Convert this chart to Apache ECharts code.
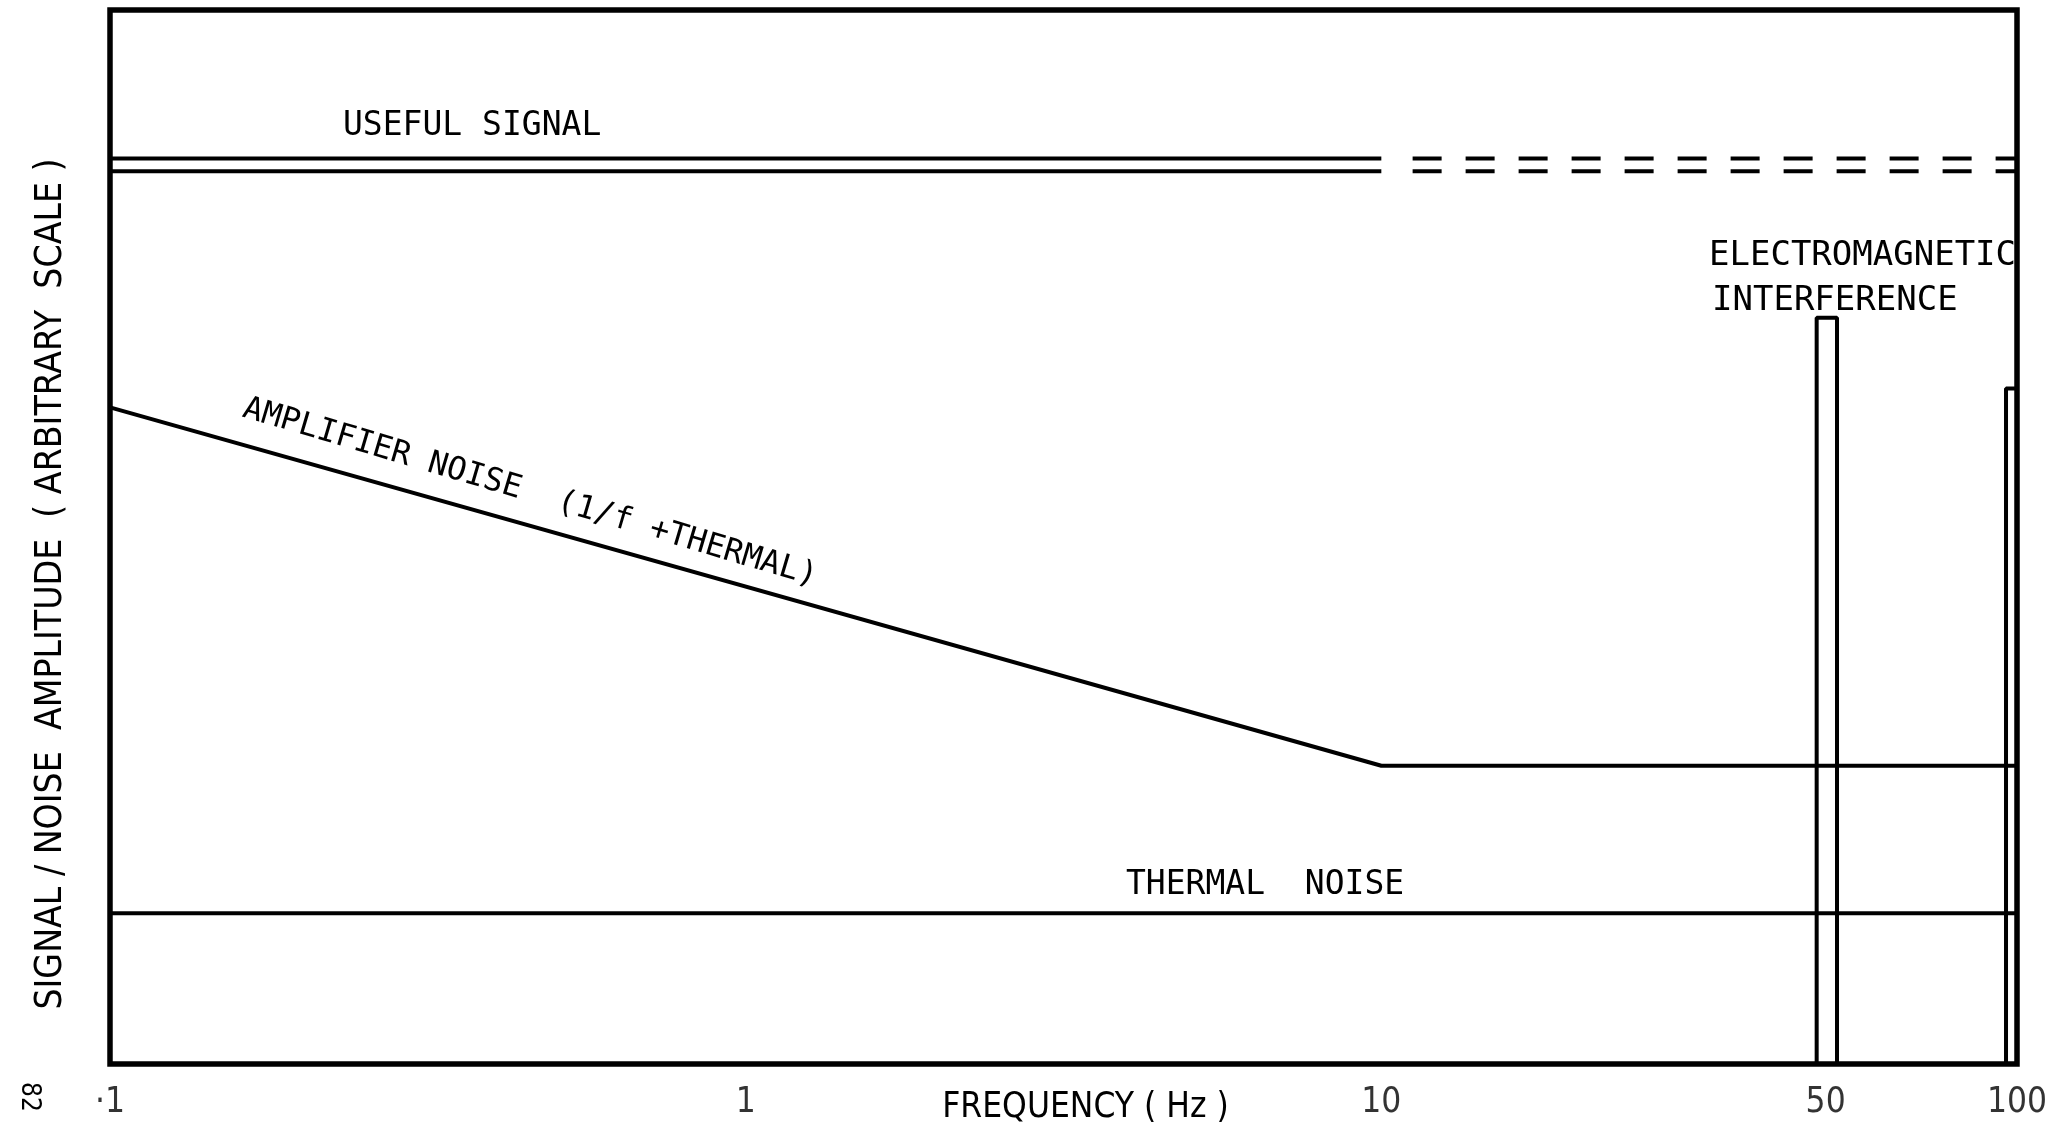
<!DOCTYPE html>
<html>
<head>
<meta charset="utf-8">
<script src="https://cdn.jsdelivr.net/npm/echarts@6/dist/echarts.min.js"></script>
<style>
html,body{margin:0;padding:0;background:#fff;}
#chart{width:2069px;height:1130px;}
</style>
</head>
<body>
<div id="chart"></div>
<script>
// ---- data (x: frequency in Hz on log scale, y: arbitrary amplitude 0..100) ----
const tickValues = [0.1, 1, 10, 50, 100];
const tickLabels = ['·1', '1', '10', '50', '100'];

const usefulUpperSolid = [[0.1, 85.9], [10, 85.9]];
const usefulUpperDashed = [[11.2, 85.9], [100, 85.9]];
const usefulLowerSolid = [[0.1, 84.7], [10, 84.7]];
const usefulLowerDashed = [[11.2, 84.7], [100, 84.7]];
const amplifierNoise = [[0.1, 62.3], [10, 28.3], [100, 28.3]];
const thermalNoise = [[0.1, 14.3], [100, 14.3]];
const emi50 = [[48.4, 0], [48.4, 70.8], [52.1, 70.8], [52.1, 0]];
const emi100 = [[96.1, 0], [96.1, 64.1], [100, 64.1]];

const COND = '"DejaVu Sans Condensed", "Liberation Sans Narrow", sans-serif';
const MONO = '"DejaVu Sans Mono", "Liberation Mono", monospace';

function lineSeries(data, w, type) {
  return {
    type: 'line', data: data, symbol: 'none', silent: true, animation: false,
    lineStyle: { color: '#000', width: w, type: type || 'solid' }
  };
}

const chart = echarts.init(document.getElementById('chart'));
const option = {
  backgroundColor: '#fff',
  animation: false,
  grid: { left: 110, right: 52, top: 10, bottom: 57, show: true, borderColor: '#000', borderWidth: 5.5, backgroundColor: 'transparent' },
  xAxis: {
    type: 'log', logBase: 10, min: 0.1, max: 100,
    axisLine: { show: false }, axisTick: { show: false }, axisLabel: { show: false }, splitLine: { show: false },
    name: 'FREQUENCY ( Hz )', nameLocation: 'middle', nameGap: 26,
    nameTextStyle: { fontFamily: COND, fontSize: 35, color: '#000', padding: [0, 0, 0, 44] }
  },
  yAxis: {
    type: 'value', min: 0, max: 100,
    axisLine: { show: false }, axisTick: { show: false }, axisLabel: { show: false }, splitLine: { show: false }
  },
  series: [
    lineSeries(usefulUpperSolid, 4),
    lineSeries(usefulUpperDashed, 4, [29, 24]),
    lineSeries(usefulLowerSolid, 4),
    lineSeries(usefulLowerDashed, 4, [29, 24]),
    lineSeries(amplifierNoise, 4),
    lineSeries(thermalNoise, 4),
    lineSeries(emi50, 4),
    lineSeries(emi100, 4),
    {
      type: 'scatter', silent: true, animation: false, clip: false, symbolSize: 1,
      itemStyle: { color: 'transparent' },
      data: tickValues.map(function (v, i) { return { value: [v, 0], name: tickLabels[i] }; }),
      label: {
        show: true, position: 'bottom', distance: 21, color: '#000',
        fontFamily: COND, fontSize: 35,
        formatter: function (p) { return p.name; }
      }
    }
  ],
  graphic: [
    { type: 'text', x: 51, y: 584, rotation: Math.PI / 2,
      style: { text: 'SIGNAL / NOISE  AMPLITUDE  ( ARBITRARY  SCALE )', font: '37px ' + COND, fill: '#000', align: 'center', verticalAlign: 'middle' } },
    { type: 'text', left: 343, top: 110, style: { text: 'USEFUL SIGNAL', font: '33px ' + MONO, fill: '#000' } },
    { type: 'text', left: 1709, top: 239, style: { text: 'ELECTROMAGNETIC', font: '34px ' + MONO, fill: '#000' } },
    { type: 'text', left: 1712, top: 284, style: { text: 'INTERFERENCE', font: '34px ' + MONO, fill: '#000' } },
    { type: 'text', left: 1126, top: 869, style: { text: 'THERMAL  NOISE', font: '33px ' + MONO, fill: '#000' } },
    { type: 'text', x: 530, y: 493, rotation: -16.5 * Math.PI / 180,
      style: { text: 'AMPLIFIER NOISE  (1/f +THERMAL)', font: '32px ' + MONO, fill: '#000', align: 'center', verticalAlign: 'middle' } },
    { type: 'text', x: 29, y: 1097, rotation: -Math.PI / 2,
      style: { text: '82', font: '26px ' + COND, fill: '#000', align: 'center', verticalAlign: 'middle' } }
  ]
};
chart.setOption(option);
</script>
</body>
</html>
